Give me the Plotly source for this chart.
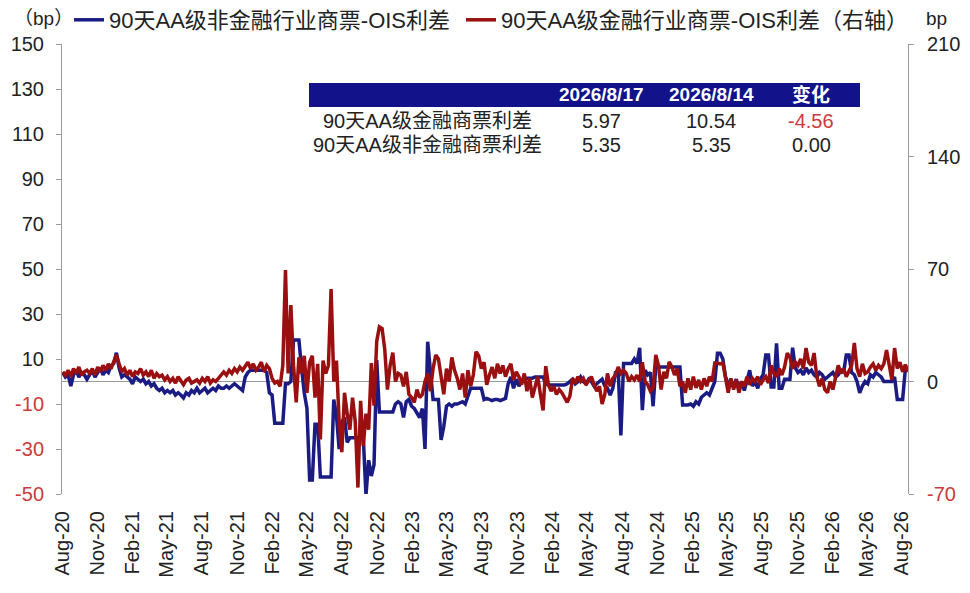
import pandas as pd
import plotly.graph_objects as go

# ---------------- data ----------------
start_date = "2020-08-03"
n_weeks = 316

# 90天AA级非金融行业商票-OIS利差 (left axis, bp), weekly
nonfin = [
    4, 2, 3, -2, 3, 5, 2, 4, 3, 1,
    3, 5, 2, 4, 6, 3, 5, 4, 7, 8,
    12.8, 6, 2, 3, 2, 1, -1, 2, 1, 0,
    1, -1, 0, -2, -1, -3, -4, -3, -5, -4,
    -5, -4, -6, -5, -6, -7.3, -5, -6, -4, -5,
    -3, -5, -4, -3, -5, -4, -3, -4, -2, -3,
    -3, -2, -3, -2, -1, -2, -3, -4, 2, 4,
    5, 5, 5, 5, 5, 5, 4, -5, -6, -18.5,
    -18.5, -18.5, -18.5, -1, -1, 0, 18.4, 18.4, 18.4, 6,
    -5, -12, -43.8, -43.8, -19, -19, -42.4, -42.4, -42.4, -42.4,
    -42.4, -8, -15, -30, -18, -16, -27, -25, -25, -25,
    -25, -25, -25, -50.5, -35, -42, -37, 9.5, -13.5, -13.5,
    -13.5, -13.5, -13.5, -13.5, -10, -9, -10, -16, -9, -8,
    -11, -12, -14, -16, -12, -30, 17.7, 5, -8, -8,
    -8, -26, -20, -11, -10, -11, -10, -10, -9.6, -9,
    -10, -6, -3, -3, -3, -3, -3, -8, -7.5, -8,
    -8.5, -8, -8, -8.5, -8, -7.5, -1, 2, -3, 1,
    -2, 0, 1, 1.5, 1.5, 1.5, 2, 2, 2, 2,
    -1, -1.5, -1.5, -1.5, -1.5, -1.5, -1.5, -1.5, -1, 0,
    1, -1, 0, 2, 0, -1, 1, 0, -2, -1,
    0, 1, -2, -3, -6, -3, 4, 5, -24, 8,
    8, 8, 8, 10, 8, 15, -12.7, 5, 3, 4,
    -11, 6.5, 6.5, 6.5, 6.5, 6.5, 6.5, 6.5, 6.5, 6.5,
    6.5, -10.4, -10.4, -10.4, -10, -11, -9, -10, -7, -6,
    -5, -6, -3, 0, 12.6, 12.6, 10, 2, -1, 0,
    -2, 1, -3, 0, -4, 1, 5, -2, 0, -3,
    1, 3, 11.8, 11.8, -2.4, -2.4, 17, -3, -3, 1,
    1, 1, 15, 6, 4, 5, 3, 6, 4, 5,
    3, 2, 4, 3, 1, 2, 3, 4, 2, 3,
    5, 4, 11.8, 11.8, 4, 3, 0, -5, -2, 0,
    -1, 3, 2, 4, 3, 2, 0, 0, 0, 0,
    2, -8, -8, -8, 5.35, 5.35,
]

# 90天AA级金融行业商票-OIS利差 (right axis, bp), weekly
fin = [
    6, 4, 7, 3, 8, 5, 9, 4, 6, 7,
    5, 8, 4, 9, 6, 10, 7, 11, 8, 12,
    16.5, 11, 6, 8, 4, 7, 3, 6, 5, 8,
    4, 6, 3, 7, 2, 5, 3, 4, 1, 3,
    0, 2, -1, 3, 0, -2, 1, 2, -1, 0,
    1, -1, 2, 0, 3, -1, 1, 0, 2, 4,
    6, 4, 7, 5, 8, 6, 9, 7, 10, 12,
    8, 11, 7, 9, 12, 6, 10, 8, 2, -1,
    0, -3, 10, 69.4, 5, 47.6, 10, -13, 15, 5,
    16, -7, 12, 16, -10, 11, -36, 13, 5, 10,
    57.5, 0, 13, -25, -44, -7, -20, -30, -10, -25,
    -66, -12, -40, -20, -30, 11.5, -15, 25, 34, 33,
    20, -5, 10, 18, 0, 5, 4, -3, 6, -8,
    -10, -13, -5, -10, -8, 0, 5, -6, 8, 16.5,
    14, 3, -8, 8, 0, 15, 7, 2, -5, 5,
    -10, 7, -3, 4, 18.5, 16, 8, 12, -2, 4,
    9, 2, 11, 5, 10, 3, 8, 11, 1, 6,
    3, -2, 5, -6, 2, -10, -4, 3, -8, -18,
    9.5, -2, -6, -3, -8, -5, -7, -10, -13, -9,
    2, -1, 3, 0, 2, -2, 1, 3, -2, -6,
    -3, -14, -8, 5, -3, 2, 4, 9, 5, 7,
    5, 0, 3, 1, 4, 0, 12, 0, -2, -6,
    -4, 16.5, 10, -5, 6, 2, 12.3, 9, 4, 8,
    -3, 0, -7, 2, -5, 3, -4, 1, -5, 2,
    -3, 3, 0, 11.5, 11.5, 11, 11.5, 3, -7, 2,
    -5, 1, -7, 0, -3, 3, -2, 2, 0, 3,
    -2, 1, 3, -1, 10, 5, 3, 8, 4, 9,
    17.7, 15, 8, 12, 10, 14, 8, 20.8, 12, 10,
    17.7, 3, -3, 2, -5, -7, 0, -5, 3, 10,
    5, 8, 3, 6, 10, 24, 8, 3, 11, 5,
    6, 9, 11, 7, 10, 8, 11, 19.6, 9, 1,
    20.8, 8, 12, 6, 10.54, 5.97,
]

series_names = ["90天AA级非金融行业商票-OIS利差", "90天AA级金融行业商票-OIS利差（右轴）"]

x_tick_dates = ["2020-08-01", "2020-11-01", "2021-02-01", "2021-05-01", "2021-08-01",
                "2021-11-01", "2022-02-01", "2022-05-01", "2022-08-01", "2022-11-01",
                "2023-02-01", "2023-05-01", "2023-08-01", "2023-11-01", "2024-02-01",
                "2024-05-01", "2024-08-01", "2024-11-01", "2025-02-01", "2025-05-01",
                "2025-08-01", "2025-11-01", "2026-02-01", "2026-05-01", "2026-08-01"]
x_tick_labels = ["Aug-20", "Nov-20", "Feb-21", "May-21", "Aug-21", "Nov-21", "Feb-22",
                 "May-22", "Aug-22", "Nov-22", "Feb-23", "May-23", "Aug-23", "Nov-23",
                 "Feb-24", "May-24", "Aug-24", "Nov-24", "Feb-25", "May-25", "Aug-25",
                 "Nov-25", "Feb-26", "May-26", "Aug-26"]

left_ticks = [-50, -30, -10, 10, 30, 50, 70, 90, 110, 130, 150]
right_ticks = [-70, 0, 70, 140, 210]

table_header = ["", "2026/8/17", "2026/8/14", "变化"]
table_rows = [
    ["90天AA级金融商票利差", "5.97", "10.54", "-4.56"],
    ["90天AA级非金融商票利差", "5.35", "5.35", "0.00"],
]

# ---------------- layout constants (screen pixels) ----------------
OFF = 8                      # default page body margin offset
WIN_W, WIN_H = 970, 593
FIG_W, FIG_H = WIN_W - OFF, WIN_H - OFF
PL, PR, PT, PB = 62, 908, 44, 494   # plot area in screen px
PW, PH = PR - PL, PB - PT
FONT = "Liberation Sans, Arial, Noto Sans CJK SC, sans-serif"
NAVY = "#1b1b84"
BAR = "#12128a"
DARKRED = "#9a0f0f"
NEG = "#cc3a3a"
TXT = "#222222"


def px(xs):
    return (xs - PL) / PW


def py(ys):
    return (PB - ys) / PH


dates = pd.date_range(start_date, periods=n_weeks, freq="7D")

fig = go.Figure()
fig.add_trace(go.Scatter(x=dates[:len(nonfin)], y=nonfin, mode="lines", name=series_names[0],
                         line=dict(color=NAVY, width=3.5), yaxis="y", legend="legend"))
fig.add_trace(go.Scatter(x=dates[:len(fin)], y=fin, mode="lines", name=series_names[1],
                         line=dict(color=DARKRED, width=3.5), yaxis="y2", legend="legend2"))


def tick_text(vals):
    out = []
    for v in vals:
        if v < 0:
            out.append(f'<span style="color:{NEG}">{v}</span>')
        else:
            out.append(str(v))
    return out


shapes = []
annotations = []

# table header bar
shapes.append(dict(type="rect", xref="paper", yref="paper",
                   x0=px(309), x1=px(860), y0=py(107), y1=py(83),
                   fillcolor=BAR, line=dict(width=0), layer="above"))
col_x = [427, 601, 711, 811]
row_y = [95, 121, 145]
for j, t in enumerate(table_header):
    if t:
        annotations.append(dict(xref="paper", yref="paper", x=px(col_x[j]), y=py(row_y[0]),
                                text=f"<b>{t}</b>", showarrow=False, xanchor="center", yanchor="middle",
                                font=dict(family=FONT, size=19, color="white")))
for i, row in enumerate(table_rows):
    for j, t in enumerate(row):
        color = NEG if t.startswith("-") else TXT
        annotations.append(dict(xref="paper", yref="paper", x=px(col_x[j]), y=py(row_y[i + 1]),
                                text=t, showarrow=False, xanchor="center", yanchor="middle",
                                font=dict(family=FONT, size=20, color=color)))

# axis unit labels
annotations.append(dict(xref="paper", yref="paper", x=px(12), y=py(18), text="（bp）",
                        showarrow=False, xanchor="left", yanchor="middle",
                        font=dict(family=FONT, size=19, color=TXT)))
annotations.append(dict(xref="paper", yref="paper", x=px(924), y=py(18), text="bp",
                        showarrow=False, xanchor="left", yanchor="middle",
                        font=dict(family=FONT, size=19, color=TXT)))

fig.update_layout(
    width=FIG_W, height=FIG_H,
    margin=dict(l=PL - OFF, r=FIG_W - (PR - OFF), t=PT - OFF, b=FIG_H - (PB - OFF),
                autoexpand=False),
    paper_bgcolor="white", plot_bgcolor="white",
    font=dict(family=FONT, size=20, color=TXT),
    xaxis=dict(type="date", range=["2020-08-01", "2026-08-17"],
               tickvals=x_tick_dates, ticktext=x_tick_labels, tickangle=-90,
               showgrid=False, showline=False, zeroline=False, ticks="",
               ticklabelstandoff=12, automargin=False,
               tickfont=dict(size=20, color=TXT)),
    yaxis=dict(range=[-50, 150], tickvals=left_ticks, ticktext=tick_text(left_ticks),
               showgrid=False, showline=True, linecolor="#9a9a9a", linewidth=1,
               ticks="outside", ticklen=5, tickcolor="#9a9a9a", ticklabelstandoff=8,
               zeroline=True, zerolinecolor="#9a9a9a", zerolinewidth=1, automargin=False,
               tickfont=dict(size=20, color=TXT)),
    yaxis2=dict(range=[-70, 210], tickvals=right_ticks, ticktext=tick_text(right_ticks),
                overlaying="y", side="right", showgrid=False, showline=True,
                linecolor="#9a9a9a", linewidth=1, ticks="outside", ticklen=5,
                tickcolor="#9a9a9a", zeroline=False, ticklabelstandoff=9, automargin=False,
                tickfont=dict(size=20, color=TXT)),
    legend=dict(orientation="h", x=px(69), y=py(20), xanchor="left", yanchor="middle",
                font=dict(family=FONT, size=22, color=TXT), bgcolor="rgba(0,0,0,0)",
                itemwidth=30),
    legend2=dict(orientation="h", x=px(461), y=py(20), xanchor="left", yanchor="middle",
                 font=dict(family=FONT, size=22, color=TXT), bgcolor="rgba(0,0,0,0)",
                 itemwidth=30),
    shapes=shapes,
    annotations=annotations,
    showlegend=True,
)

fig.write_html("out.html")
